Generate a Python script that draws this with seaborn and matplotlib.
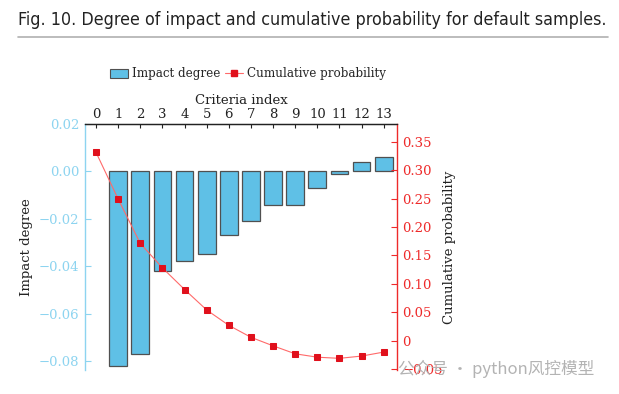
import matplotlib
matplotlib.use('Agg')
import matplotlib.pyplot as plt
from matplotlib import font_manager
from matplotlib.patches import Patch
from matplotlib.lines import Line2D
from matplotlib.ticker import FixedLocator, FuncFormatter
import seaborn as sns
import pandas as pd
import numpy as np

#   Data
criteria_idx = list(range(14))
impact_degree = [np.nan, -0.082, -0.077, -0.042, -0.038, -0.035, -0.027, -0.021,
                 -0.014, -0.014, -0.007, -0.001, 0.004, 0.006]
cum_prob = [0.331, 0.249, 0.171, 0.128, 0.090, 0.054, 0.027, 0.006,
            -0.009, -0.023, -0.029, -0.031, -0.027, -0.020]
left_ticks = [-0.08, -0.06, -0.04, -0.02, 0.00, 0.02]
right_ticks = [-0.05, 0, 0.05, 0.10, 0.15, 0.20, 0.25, 0.30, 0.35]

title_text = 'Fig. 10. Degree of impact and cumulative probability for default samples.'
watermark = '公众号 · python风控模型'

df = pd.DataFrame({'idx': criteria_idx, 'impact': impact_degree, 'cum': cum_prob})

sns.set_theme(style='white')
plt.rcParams['font.family'] = ['DejaVu Serif']
plt.rcParams['axes.unicode_minus'] = True

bar_face = '#5fc0e6'
bar_edge = '#505050'
blue_axis = '#8dd4f0'
red_axis = '#ee2a2a'
line_col = '#ff6a6a'
mark_col = '#e0101c'

fig = plt.figure(figsize=(6.19, 3.94), dpi=100)
ax = fig.add_axes([85 / 619, 1 - 370 / 394, 312 / 619, 246 / 394])

sns.barplot(data=df, x='idx', y='impact', order=criteria_idx, color=bar_face,
            saturation=1, edgecolor=bar_edge, linewidth=0.9, width=0.8, ax=ax)

ax2 = ax.twinx()
sns.lineplot(data=df, x='idx', y='cum', color=line_col, linewidth=0.8,
             marker='s', markersize=4, markerfacecolor=mark_col,
             markeredgecolor=mark_col, ax=ax2)

ax.set_xlim(-0.5, 13.6)
ax.set_ylim(-0.0838, 0.02)
ax2.set_ylim(-0.0515, 0.381)

#   top x axis
ax.xaxis.tick_top()
ax.xaxis.set_label_position('top')
ax.set_xlabel('Criteria index', fontsize=9.5, color='#222222', labelpad=3)
ax.tick_params(axis='x', direction='in', length=3, width=0.8, pad=2,
               labelsize=9.5, colors='#222222', top=True, bottom=False)
ax2.tick_params(axis='x', top=False, bottom=False, labeltop=False, labelbottom=False)

#   left axis
ax.yaxis.set_major_locator(FixedLocator(left_ticks))
ax.yaxis.set_major_formatter(FuncFormatter(lambda v, p: ('%.2f' % v).replace('-', '\u2212') if abs(v) > 1e-9 else '0.00'))
ax.tick_params(axis='y', direction='in', length=4, width=0.8, pad=4,
               labelsize=9.5, colors=blue_axis, left=True)
ax.set_ylabel('Impact degree', fontsize=9.5, color='#222222', labelpad=4)

#   right axis
ax2.yaxis.set_major_locator(FixedLocator(right_ticks))
ax2.yaxis.set_major_formatter(FuncFormatter(lambda v, p: '0' if abs(v) < 1e-9 else ('%.2f' % v).replace('-', '\u2212')))
ax2.tick_params(axis='y', direction='in', length=4, width=0.8, pad=4,
                labelsize=9.5, colors=red_axis, right=True)
ax2.set_ylabel('Cumulative probability', fontsize=9.5, color='#222222', labelpad=0)

for a in (ax, ax2):
    a.spines['bottom'].set_visible(False)
    a.spines['top'].set_color('#222222')
    a.spines['top'].set_linewidth(0.9)
    a.spines['left'].set_color(blue_axis)
    a.spines['left'].set_linewidth(1.0)
    a.spines['right'].set_color(red_axis)
    a.spines['right'].set_linewidth(1.0)
    a.grid(False)
ax2.spines['left'].set_visible(False)
ax.spines['right'].set_visible(False)

#   legend above the axis label
handles = [Patch(facecolor=bar_face, edgecolor=bar_edge, linewidth=0.8),
           Line2D([], [], color=line_col, linewidth=0.8, marker='s', markersize=4,
                  markerfacecolor=mark_col, markeredgecolor=mark_col)]
fig.legend(handles, ['Impact degree', 'Cumulative probability'], loc='center',
           bbox_to_anchor=(248 / 619, 1 - 74 / 394), ncol=2, frameon=False,
           fontsize=8.6, handlelength=1.5, handleheight=0.8, handletextpad=0.3,
           columnspacing=0.4, borderpad=0)

#   caption
names = {f.name for f in font_manager.fontManager.ttflist}
if 'Liberation Sans Narrow' in names:
    fig.text(18 / 619, 1 - 20 / 394, title_text, family='Liberation Sans Narrow',
             fontsize=13.5, color='#222222', va='center', ha='left')
else:
    fig.text(18 / 619, 1 - 20 / 394, title_text, family='DejaVu Sans',
             fontsize=12.8, fontstretch='condensed', color='#222222', va='center', ha='left')
fig.add_artist(Line2D([18 / 619, 608 / 619], [1 - 37 / 394, 1 - 37 / 394],
                      color='#b0b0b0', linewidth=1.2))

#   watermark
fig.text(398 / 619, 1 - 369 / 394, watermark, family=['Noto Sans CJK SC', 'DejaVu Sans'],
         fontsize=12, color='#b3b3b3', va='center', ha='left')

fig.savefig('out.png', dpi=100)
